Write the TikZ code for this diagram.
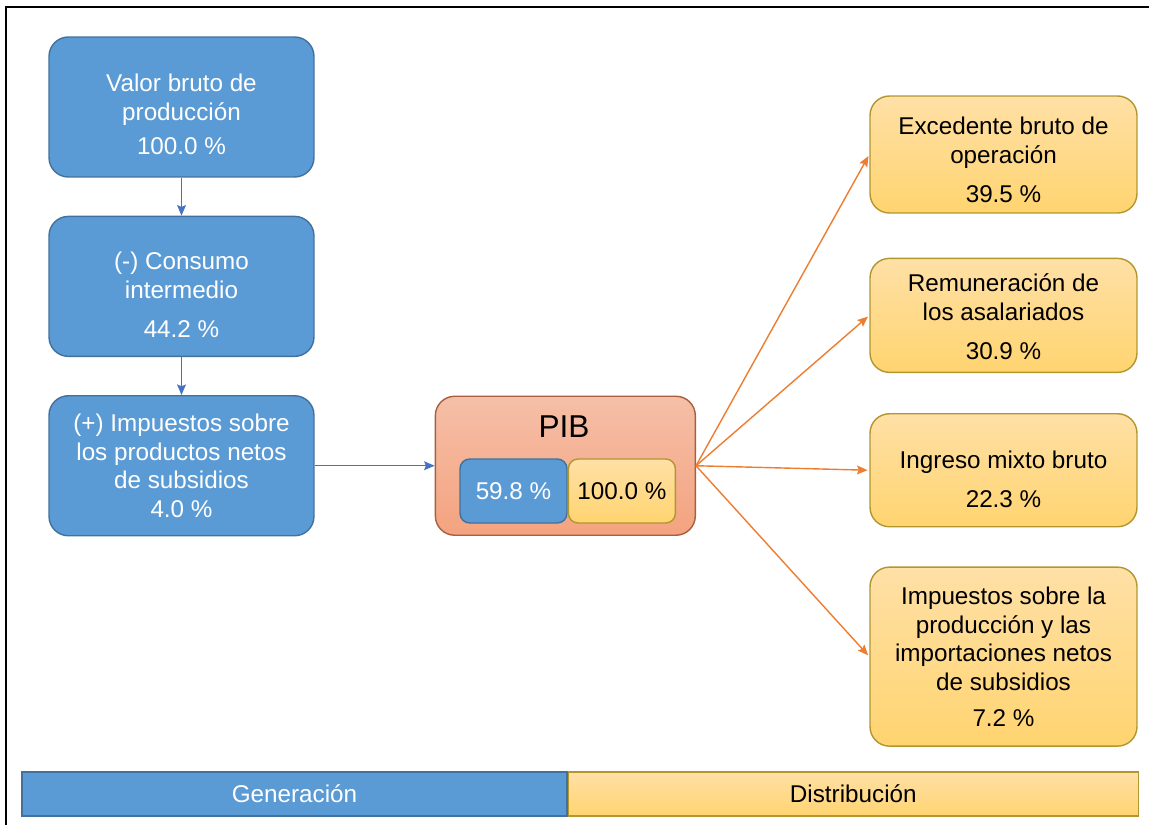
\documentclass[tikz,border=0pt]{standalone}
\usepackage{fontspec}
\setmainfont{Liberation Sans}
\usetikzlibrary{arrows.meta,positioning}

\definecolor{genblue}{HTML}{5B9BD5}
\definecolor{genline}{HTML}{41719C}
\definecolor{disthi}{HTML}{FFE0A6}
\definecolor{distlo}{HTML}{FFD470}
\definecolor{distline}{HTML}{B2962E}
\definecolor{pibhi}{HTML}{F5BFA8}
\definecolor{piblo}{HTML}{F4A37F}
\definecolor{pibline}{HTML}{A65F3F}
\definecolor{flowblue}{HTML}{4472C4}
\definecolor{floworange}{HTML}{ED7D31}

% baja la primera linea de texto
\newcommand{\droptop}[1]{\rule{0pt}{#1}}

\begin{document}
\begin{tikzpicture}[x=0.02cm, y=-0.02cm, node distance=0.76cm,
  >={Stealth[length=6pt,width=5pt,inset=1pt]},
  every node/.style={font=\fontsize{13.8}{16.4}\selectfont, align=center},
  gen/.style={rectangle, rounded corners=11pt, draw=genline, line width=0.8pt,
    fill=genblue, text=white, minimum width=5.3cm, minimum height=2.8cm},
  dist/.style={rectangle, rounded corners=11pt, draw=distline, line width=0.8pt,
    top color=disthi, bottom color=distlo, minimum width=5.34cm},
  small/.style={rectangle, rounded corners=5.5pt, line width=0.8pt,
    minimum width=2.14cm, minimum height=1.28cm},
  bar/.style={rectangle, line width=0.8pt, minimum height=0.88cm}]

\useasboundingbox (0,0) rectangle (1149,825);
\draw[line width=1.2pt] (1149,7) -- (6,7) -- (6,825);

% generacion
\node[gen] (vbp)                  at (181.5,107) {\droptop{18pt}Valor bruto de\\producción\\[3pt]100.0 \%};
\node[gen] (ci)   [below=of vbp]                 {\droptop{20pt}(-) Consumo\\intermedio\\[6pt]44.2 \%};
\node[gen] (imp)  [below=of ci]                  {(+) Impuestos sobre\\los productos netos\\de subsidios\\4.0 \%};

% PIB
\node[rectangle, rounded corners=11pt, draw=pibline, line width=0.8pt,
  top color=pibhi, bottom color=piblo, minimum width=5.2cm, minimum height=2.78cm]
           (pib)  [right=2.4cm of imp]           {};
\node[font=\fontsize{18}{20}\selectfont] (pibt) at (564,427) {PIB};
\node[small, draw=genline, fill=genblue, text=white] (pibg) at (513.5,491) {59.8 \%};
\node[small, draw=distline, top color=disthi, bottom color=distlo]
           (pibd) [right=0pt of pibg]            {100.0 \%};

% distribucion
\node[dist, minimum height=2.34cm] (ebo)  at (1003.5,154.5) {\droptop{16pt}Excedente bruto de\\operación\\[6pt]39.5 \%};
\node[dist, minimum height=2.28cm] (ra)   [below=0.88cm of ebo] {\droptop{12pt}Remuneración de\\los asalariados\\[6pt]30.9 \%};
\node[dist, minimum height=2.26cm] (imb)  [below=0.8cm of ra]   {\droptop{20pt}Ingreso mixto bruto\\[6pt]22.3 \%};
\node[dist, minimum height=3.58cm] (ipi)  [below=0.78cm of imb] {Impuestos sobre la\\producción y las\\importaciones netos\\de subsidios\\[4pt]7.2 \%};

% barra inferior
\node[bar, draw=genline, fill=genblue, text=white, minimum width=10.9cm] (gen) at (294.5,794) {Generación};
\node[bar, draw=distline, top color=disthi, bottom color=distlo, minimum width=11.4cm]
           (dis)  [right=0pt of gen]             {Distribución};

\path[->, flowblue, line width=0.8pt]
      (vbp) edge (ci)
      (ci)  edge (imp)
      (imp) edge (pib);

\path[->, floworange, line width=0.8pt, shorten >=1pt]
      (pib.east) edge (ebo.west)
      (pib.east) edge (ra.west)
      (pib.east) edge (imb.west)
      (pib.east) edge (ipi.west);
\end{tikzpicture}
\end{document}
